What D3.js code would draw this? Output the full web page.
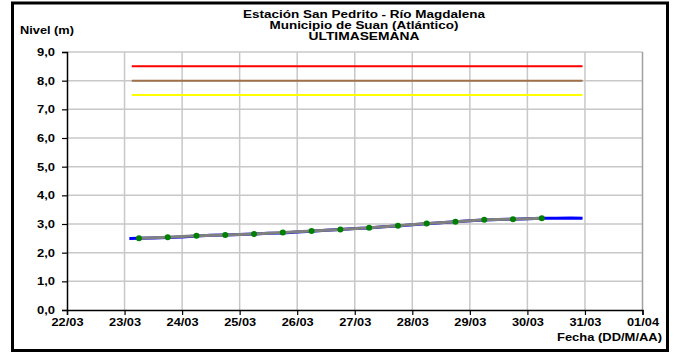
<!DOCTYPE html>
<html><head><meta charset="utf-8">
<script src="https://cdn.jsdelivr.net/npm/d3@7"></script>
<style>body{margin:0;background:#fff}svg{display:block}text{font-family:"Liberation Sans",Arial,sans-serif;font-weight:bold;fill:#000}</style>
</head><body><svg id="c" width="677" height="352"></svg>
<script>
const titleLines = ["Estación San Pedrito - Río Magdalena","Municipio de Suan (Atlántico)","ULTIMASEMANA"];
const yTicks = [0,1,2,3,4,5,6,7,8,9];
const xTickDates = ["2024-03-22","2024-03-23","2024-03-24","2024-03-25","2024-03-26","2024-03-27","2024-03-28","2024-03-29","2024-03-30","2024-03-31","2024-04-01"];
// thresholds
const thresholdStart = "2024-03-23T03:00";
const thresholdEnd = "2024-03-30T23:00";
const thresholdValues = [8.5, 8.0, 7.5];
const thresholdColors = ["#ff0000", "#a0704a", "#ffff00"];
// observed (green dots, gray line)
const obsTimes = ["2024-03-23T06:00","2024-03-23T18:00","2024-03-24T06:00","2024-03-24T18:00","2024-03-25T06:00","2024-03-25T18:00","2024-03-26T06:00","2024-03-26T18:00","2024-03-27T06:00","2024-03-27T18:00","2024-03-28T06:00","2024-03-28T18:00","2024-03-29T06:00","2024-03-29T18:00","2024-03-30T06:00"];
const obsValues = [2.50,2.54,2.59,2.62,2.65,2.70,2.76,2.81,2.87,2.94,3.02,3.08,3.15,3.17,3.20];
// continuous series (blue)
const blueTimes = ["2024-03-23T02:00","2024-03-23T06:00","2024-03-23T12:00","2024-03-23T18:00","2024-03-24T00:00","2024-03-24T06:00","2024-03-24T12:00","2024-03-24T18:00","2024-03-25T00:00","2024-03-25T06:00","2024-03-25T12:00","2024-03-25T18:00","2024-03-26T00:00","2024-03-26T06:00","2024-03-26T12:00","2024-03-26T18:00","2024-03-27T00:00","2024-03-27T06:00","2024-03-27T12:00","2024-03-27T18:00","2024-03-28T00:00","2024-03-28T06:00","2024-03-28T12:00","2024-03-28T18:00","2024-03-29T00:00","2024-03-29T06:00","2024-03-29T12:00","2024-03-29T18:00","2024-03-30T00:00","2024-03-30T06:00","2024-03-30T12:00","2024-03-30T18:00","2024-03-30T23:00"];
const blueValues = [2.49,2.50,2.51,2.53,2.55,2.58,2.61,2.62,2.63,2.65,2.68,2.69,2.72,2.75,2.78,2.81,2.84,2.86,2.90,2.93,2.97,3.01,3.04,3.08,3.11,3.14,3.16,3.17,3.18,3.20,3.20,3.21,3.20];

const svg = d3.select("#c");
const parse = d3.isoParse;
const x = d3.scaleTime().domain([parse("2024-03-22T00:00"), parse("2024-04-01T00:00")]).range([67, 642.5]);
const y = d3.scaleLinear().domain([0, 9]).range([310, 52]);
const fmtY = d => d3.format(".1f")(d).replace(".", ",");

// outer border
svg.append("rect").attr("x",12.5).attr("y",3).attr("width",655).attr("height",347.5).attr("fill","#fff").attr("stroke","#000").attr("stroke-width",3);

// grid
const g = svg.append("g");
g.selectAll(".hg").data(yTicks.filter(d=>d>0)).join("line").attr("x1",67).attr("x2",642.5).attr("y1",d=>y(d)).attr("y2",d=>y(d)).attr("stroke","#c8c8c8").attr("stroke-width",1.5);
g.selectAll(".vg").data(xTickDates.slice(1)).join("line").attr("x1",d=>x(parse(d))).attr("x2",d=>x(parse(d))).attr("y1",52).attr("y2",310).attr("stroke",(d,i)=>i===xTickDates.length-2?"#a0a0a0":"#c8c8c8").attr("stroke-width",1.5);

// axes
const yAxis = d3.axisLeft(y).tickValues(yTicks).tickFormat(fmtY).tickSize(5).tickPadding(7);
const ya = svg.append("g").attr("transform","translate(67,0)").call(yAxis);
ya.select(".domain").attr("stroke","#000").attr("stroke-width",1.5);
ya.selectAll(".tick line").attr("stroke","#000").attr("stroke-width",1.2);
ya.selectAll("text").style("font-size","11px").style("font-family","Liberation Sans, Arial, sans-serif").style("font-weight","bold")
  .attr("textLength",18).attr("lengthAdjust","spacingAndGlyphs");

const xAxis = d3.axisBottom(x).tickValues(xTickDates.map(parse)).tickFormat(d3.timeFormat("%d/%m")).tickSize(5).tickPadding(3);
const xa = svg.append("g").attr("transform","translate(0,310)").call(xAxis);
xa.select(".domain").attr("stroke","#000").attr("stroke-width",1.5);
xa.selectAll(".tick line").attr("stroke","#000").attr("stroke-width",1.2);
xa.selectAll("text").style("font-size","11px").style("font-family","Liberation Sans, Arial, sans-serif").style("font-weight","bold")
  .attr("textLength",32).attr("lengthAdjust","spacingAndGlyphs");

// thresholds
thresholdValues.forEach((v,i)=>{
  svg.append("line").attr("x1",x(parse(thresholdStart))).attr("x2",x(parse(thresholdEnd))).attr("y1",y(v)).attr("y2",y(v)).attr("stroke",thresholdColors[i]).attr("stroke-width",2);
});

// blue series
const blue = blueTimes.map((t,i)=>({t:parse(t),v:blueValues[i]}));
svg.append("path").datum(blue).attr("d",d3.line().x(d=>x(d.t)).y(d=>y(d.v))).attr("fill","none").attr("stroke","#0000ff").attr("stroke-width",3);

// observed gray line + dots
const obs = obsTimes.map((t,i)=>({t:parse(t),v:obsValues[i]}));
svg.append("path").datum(obs).attr("d",d3.line().x(d=>x(d.t)).y(d=>y(d.v))).attr("fill","none").attr("stroke","#808080").attr("stroke-width",3);
svg.selectAll(".dot").data(obs).join("circle").attr("cx",d=>x(d.t)).attr("cy",d=>y(d.v)).attr("r",3).attr("fill","#008000");

// titles
const titleWidths = [242, 189, 111];
svg.selectAll(".title").data(titleLines).join("text").attr("x",364).attr("y",(d,i)=>17.5+i*11).attr("text-anchor","middle").style("font-size","10.5px")
  .attr("textLength",(d,i)=>titleWidths[i]).attr("lengthAdjust","spacingAndGlyphs").text(d=>d);
svg.append("text").attr("x",20).attr("y",33.5).style("font-size","10.5px").attr("textLength",54).attr("lengthAdjust","spacingAndGlyphs").text("Nivel (m)");
svg.append("text").attr("x",557).attr("y",341).style("font-size","10.5px").attr("textLength",105).attr("lengthAdjust","spacingAndGlyphs").text("Fecha (DD/M/AA)");
</script></body></html>
